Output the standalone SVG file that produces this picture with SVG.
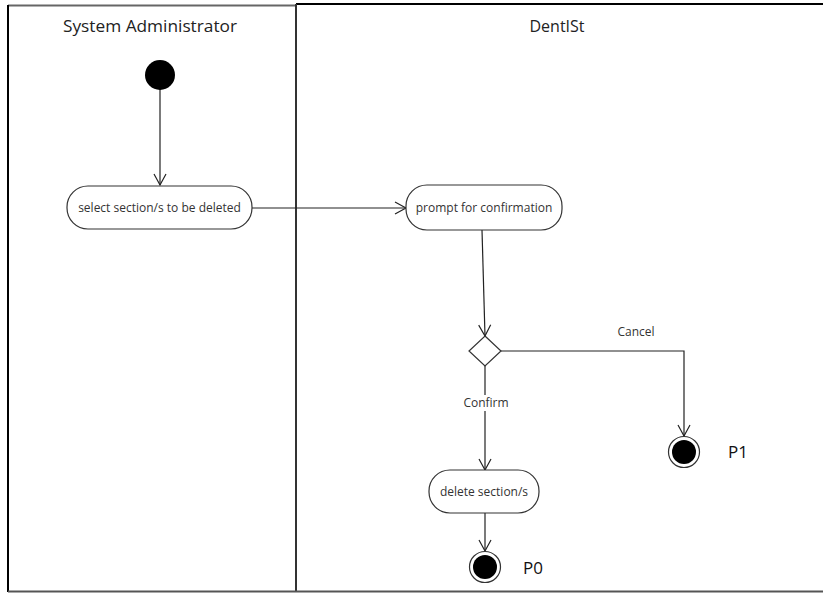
<svg xmlns="http://www.w3.org/2000/svg" width="823" height="593" viewBox="0 0 823 593">
  <defs>
    <style>
      .lane-title { font-family: "Open Sans", "Liberation Sans", sans-serif; font-size: 16px; fill: #222; text-anchor: middle; }
      .act { fill: #fff; stroke: #333; stroke-width: 1.2; }
      .act-label { font-family: "Open Sans", "Liberation Sans", sans-serif; font-size: 12px; fill: #333; text-anchor: middle; }
      .edge { fill: none; stroke: #222; stroke-width: 1.2; }
      .guard { font-family: "Open Sans", "Liberation Sans", sans-serif; font-size: 12px; fill: #333; text-anchor: middle; }
      .end-label { font-family: "Open Sans", "Liberation Sans", sans-serif; font-size: 17px; fill: #111; }
    </style>
    <marker id="open-arrow" markerWidth="14" markerHeight="14" refX="12" refY="7" orient="auto" markerUnits="userSpaceOnUse">
      <path d="M1,1 L12,7 L1,13" fill="none" stroke="#222" stroke-width="1.2"/>
    </marker>
  </defs>

  <!-- swimlane frame -->
  <g id="lanes">
    <line x1="8" y1="5.5" x2="296" y2="5.5" stroke="#666" stroke-width="2"/>
    <line x1="296" y1="4" x2="823" y2="4" stroke="#000" stroke-width="2"/>
    <line x1="8" y1="5" x2="8" y2="592" stroke="#000" stroke-width="2"/>
    <line x1="296" y1="4" x2="296" y2="592" stroke="#333" stroke-width="2"/>
    <line x1="8" y1="591.5" x2="823" y2="591.5" stroke="#555" stroke-width="2"/>
    <text class="lane-title" x="150" y="32" textLength="174" lengthAdjust="spacingAndGlyphs">System Administrator</text>
    <text class="lane-title" x="557" y="32">DentISt</text>
  </g>

  <!-- connectors -->
  <g id="connectors">
    <line class="edge" x1="160" y1="88" x2="160" y2="185" marker-end="url(#open-arrow)"/>
    <line class="edge" x1="252" y1="208" x2="406" y2="208" marker-end="url(#open-arrow)"/>
    <line class="edge" x1="482" y1="230" x2="485" y2="336" marker-end="url(#open-arrow)"/>
    <polyline class="edge" points="501,351 684,351 684,436" marker-end="url(#open-arrow)"/>
    <text class="guard" x="636" y="336">Cancel</text>
    <line class="edge" x1="485" y1="366" x2="485" y2="470" marker-end="url(#open-arrow)"/>
    <rect x="462" y="395" width="48" height="16" fill="#fff"/>
    <text class="guard" x="486" y="407">Confirm</text>
    <line class="edge" x1="485" y1="513" x2="485" y2="551" marker-end="url(#open-arrow)"/>
  </g>

  <g id="start">
    <circle cx="160" cy="75" r="15" fill="#000"/>
  </g>

  <g id="select-sections">
    <rect class="act" x="67" y="186" width="185" height="43" rx="21" ry="21"/>
    <text class="act-label" x="159.5" y="212">select section/s to be deleted</text>
  </g>

  <g id="prompt-confirmation">
    <rect class="act" x="406" y="185" width="156" height="45" rx="21" ry="21"/>
    <text class="act-label" x="484" y="212">prompt for confirmation</text>
  </g>

  <g id="decision">
    <polygon points="485,336 501,351 485,366 469,351" fill="#fff" stroke="#333" stroke-width="1.2"/>
  </g>

  <g id="delete-sections">
    <rect class="act" x="429" y="470" width="110" height="43" rx="21" ry="21"/>
    <text class="act-label" x="484" y="496">delete section/s</text>
  </g>

  <g id="end-p0">
    <circle cx="485" cy="567" r="15.5" fill="#fff" stroke="#333" stroke-width="1.2"/>
    <circle cx="485" cy="567" r="12" fill="#000"/>
    <text class="end-label" x="523" y="574">P0</text>
  </g>

  <g id="end-p1">
    <circle cx="684" cy="452" r="15.5" fill="#fff" stroke="#333" stroke-width="1.2"/>
    <circle cx="684" cy="452" r="12" fill="#000"/>
    <text class="end-label" x="728" y="458">P1</text>
  </g>
</svg>
